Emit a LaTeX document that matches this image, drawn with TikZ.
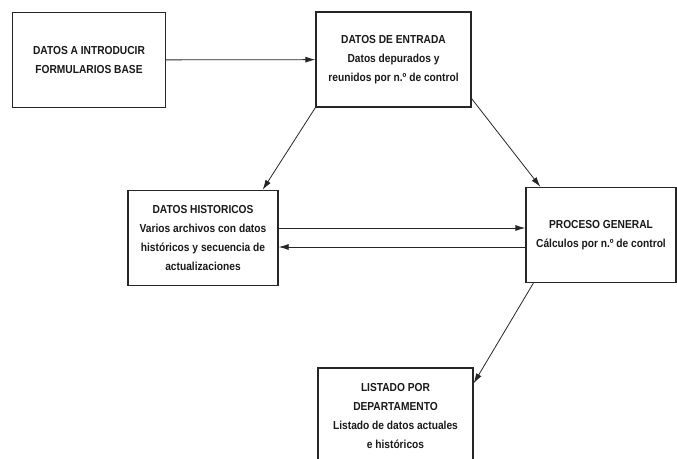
\documentclass[tikz,border=0pt]{standalone}
\usepackage{fontspec}
\setmainfont{Liberation Sans}[FakeStretch=0.88]
\usetikzlibrary{arrows.meta}
\tikzset{
  caja/.style={draw=black!85, line width=1.3pt, minimum width=#1, minimum height=95pt,
    align=center, inner sep=2pt, text=black!90,
    font=\bfseries\fontsize{11.6}{19}\selectfont},
  flecha/.style={-{Latex[length=10pt,width=6pt]}, line width=0.8pt, draw=black!85},
}
\begin{document}
\begin{tikzpicture}[x=1pt,y=-1pt]
    \useasboundingbox (0,0) rectangle (677,458);
    %% boxes
    \node[caja=153pt] (datos) at (89,60) {DATOS A INTRODUCIR\\FORMULARIOS BASE};
    \node[caja=155pt] (entrada) at (393.5,59.5) {DATOS DE ENTRADA\\Datos depurados y\\reunidos por n.º de control};
    \node[caja=150pt] (historicos) at (203,238) {DATOS HISTORICOS\\Varios archivos con datos\\históricos y secuencia de\\actualizaciones};
    \node[caja=150pt] (proceso) at (601,235) {PROCESO GENERAL\\Cálculos por n.º de control};
    \node[caja=155pt] (listado) at (395.5,415.5) {LISTADO POR\\DEPARTAMENTO\\Listado de datos actuales\\e históricos};
    %% next \draw are the flows
    \draw[flecha] (datos) -- (entrada);
    \draw[flecha] (entrada.south west) -- ([xshift=-16pt]historicos.north east);
    \draw[flecha] ([yshift=9pt]entrada.south east) -- ([xshift=15pt]proceso.north west);
    \coordinate (ida) at ([yshift=10pt]historicos.east);
    \coordinate (vuelta) at ([yshift=-9pt]historicos.east);
    \draw[flecha] (ida) -- (ida -| proceso.west);
    \draw[flecha] (vuelta -| proceso.west) -- (vuelta);
    \draw[flecha] ([xshift=8pt]proceso.south west) -- ([yshift=-16pt]listado.north east);
\end{tikzpicture}
\end{document}
